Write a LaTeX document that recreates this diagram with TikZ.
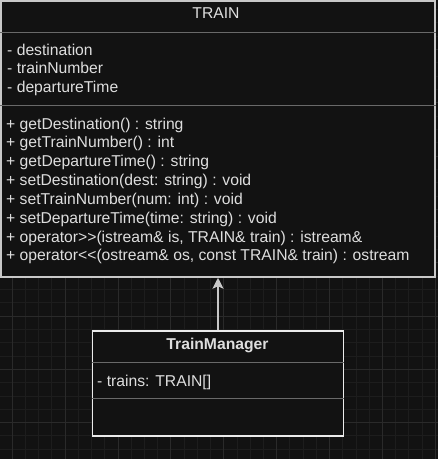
\documentclass[tikz,border=0pt]{standalone}
\usepackage{fontspec}
\setmainfont{Liberation Sans}
\usepackage{xcolor}
\usetikzlibrary{arrows.meta}
\definecolor{canvasgray}{RGB}{18, 18, 18}
\definecolor{gridminor}{RGB}{29, 29, 29}
\definecolor{gridmajor}{RGB}{42, 42, 42}
\definecolor{trainborder}{RGB}{200, 200, 200}
\definecolor{managerborder}{RGB}{235, 235, 235}
\definecolor{dividergray}{RGB}{105, 105, 105}
\definecolor{textgray}{RGB}{222, 222, 222}

\tikzset{
    classbox/.style={fill=canvasgray,line width=1.5pt,inner sep=0pt},
    divider/.style={draw=dividergray,line width=1.2pt},
    member/.style={anchor=base west,inner sep=0pt,text=textgray,font=\fontsize{15.7}{18.8}\selectfont},
    classtitle/.style={anchor=base,inner sep=0pt,text=textgray,font=\fontsize{15.7}{18.8}\selectfont},
    inherit/.style={draw=trainborder,line width=1.5pt,-{Stealth[length=11pt,width=11pt,inset=2.5pt]}}
}

\begin{document}
\begin{tikzpicture}[x=1pt,y=-1pt]
    \fill[canvasgray] (0,0) rectangle (438,459);
    \useasboundingbox (0,0) rectangle (438,459);
    % background grid
    \foreach \k in {-1,...,32}
        \draw[gridminor,line width=1pt] ({12.3+13.22*\k},0) -- ({12.3+13.22*\k},459);
    \foreach \k in {0,...,35}
        \draw[gridminor,line width=1pt] (0,{-3.9+13.33*\k}) -- (438,{-3.9+13.33*\k});
    \foreach \k in {0,...,8}
        \draw[gridmajor,line width=1pt] ({12.3+52.88*\k},0) -- ({12.3+52.88*\k},459);
    \foreach \k in {0,...,8}
        \draw[gridmajor,line width=1pt] (0,{-3.9+53.33*\k}) -- (438,{-3.9+53.33*\k});

    % TRAIN class
    \node[classbox,draw=trainborder,minimum width=434pt,minimum height=276pt] (train) at (218,139) {};
    \draw[divider] ([yshift=-32pt]train.north west) -- ([yshift=-32pt]train.north east);
    \draw[divider] ([yshift=-105pt]train.north west) -- ([yshift=-105pt]train.north east);
    \node[classtitle] (traintitle) at (216,18.5) {TRAIN};
    \foreach \txt [count=\n] in {destination, trainNumber, departureTime}
        \node[member] (trainattr\n) at (7,{55+18.9*(\n-1)}) {- \txt};
    \foreach \txt [count=\n] in {
        {getDestination() : string},
        {getTrainNumber() : int},
        {getDepartureTime() : string},
        {setDestination(dest: string) : void},
        {setTrainNumber(num: int) : void},
        {setDepartureTime(time: string) : void},
        {operator>{}>(istream\& is, TRAIN\& train) : istream\&},
        {operator<{}<(ostream\& os, const TRAIN\& train) : ostream}}
        \node[member] (trainop\n) at (6,{129+18.85*(\n-1)}) {+ \txt};

    % TrainManager class
    \node[classbox,draw=managerborder,minimum width=251pt,minimum height=105pt] (manager) at (218,383.5) {};
    \draw[divider] ([yshift=-32pt]manager.north west) -- ([yshift=-32pt]manager.north east);
    \draw[divider] ([yshift=-68pt]manager.north west) -- ([yshift=-68pt]manager.north east);
    \node[classtitle,font=\fontsize{15.7}{18.8}\selectfont\bfseries] (managertitle) at (217.5,349) {TrainManager};
    \node[member] (managerattr) at (97,386) {- trains: TRAIN[]};

    % relation
    \draw[inherit] (manager.north) -- (train.south);
\end{tikzpicture}
\end{document}
